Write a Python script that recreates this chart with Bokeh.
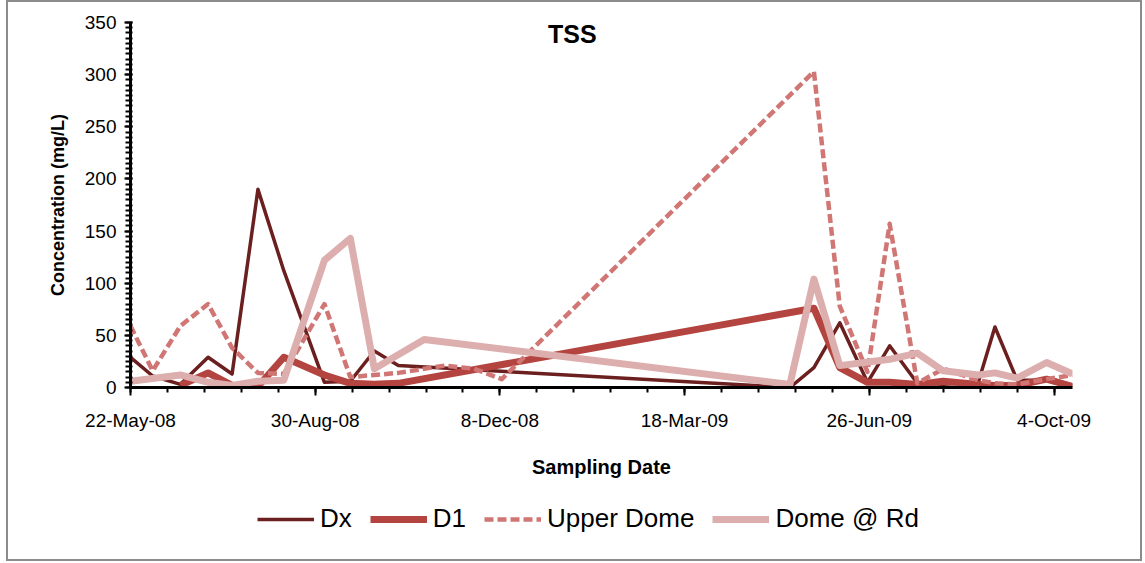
import pandas as pd
from bokeh.plotting import figure
from bokeh.layouts import column
from bokeh.models import (Range1d, FixedTicker, SingleIntervalTicker, Legend,
                          LegendItem, Label, ColumnDataSource)
from bokeh.embed import file_html
from bokeh.resources import INLINE

# ---------------- data ----------------
dx_dates = ["22-May-08", "3-Jun-08", "18-Jun-08", "3-Jul-08", "16-Jul-08", "30-Jul-08",
            "13-Aug-08", "4-Sep-08", "18-Sep-08", "1-Oct-08", "14-Oct-08", "14-May-09",
            "27-May-09", "10-Jun-09", "25-Jun-09", "7-Jul-09", "22-Jul-09", "5-Aug-09",
            "24-Aug-09", "2-Sep-09", "14-Sep-09", "30-Sep-09", "14-Oct-09"]
dx_values = [29, 11, 3, 29, 13, 190, 112, 5, 6, 35, 21, 0,
             19, 62, 5, 40, 4, 3, 5, 58, 7, 7, 2]

d1_dates = ["18-Jun-08", "3-Jul-08", "16-Jul-08", "30-Jul-08", "13-Aug-08", "4-Sep-08",
            "18-Sep-08", "1-Oct-08", "14-Oct-08", "27-May-09", "10-Jun-09", "25-Jun-09",
            "7-Jul-09", "22-Jul-09", "5-Aug-09", "24-Aug-09", "2-Sep-09", "14-Sep-09",
            "30-Sep-09", "14-Oct-09"]
d1_values = [2, 14, 2, 1, 29, 12, 4, 3, 4, 76, 19, 5, 5, 3, 6, 3, 2, 2, 8, 1]

upper_dates = ["22-May-08", "3-Jun-08", "18-Jun-08", "3-Jul-08", "16-Jul-08", "30-Jul-08",
               "13-Aug-08", "4-Sep-08", "18-Sep-08", "1-Oct-08", "14-Oct-08", "8-Nov-08",
               "24-Nov-08", "9-Dec-08", "27-May-09", "10-Jun-09", "25-Jun-09", "7-Jul-09",
               "22-Jul-09", "5-Aug-09", "24-Aug-09", "2-Sep-09", "14-Sep-09", "30-Sep-09",
               "14-Oct-09"]
upper_values = [59, 16, 59, 80, 38, 14, 13, 80, 10, 12, 14, 21, 18, 8, 303, 78, 15, 157,
                4, 18, 7, 4, 3, 8, 12]

rd_dates = ["22-May-08", "18-Jun-08", "3-Jul-08", "16-Jul-08", "30-Jul-08", "13-Aug-08",
            "4-Sep-08", "18-Sep-08", "1-Oct-08", "28-Oct-08", "14-May-09", "27-May-09",
            "10-Jun-09", "7-Jul-09", "22-Jul-09", "5-Aug-09", "24-Aug-09", "2-Sep-09",
            "14-Sep-09", "30-Sep-09", "14-Oct-09"]
rd_values = [6, 12, 5, 2, 6, 7, 122, 143, 18, 46, 3, 104, 21, 27, 33, 16, 12, 14, 9, 24, 13]

series_names = ["Dx", "D1", "Upper Dome", "Dome @ Rd"]
tick_labels = ["22-May-08", "30-Aug-08", "8-Dec-08", "18-Mar-09", "26-Jun-09", "4-Oct-09"]
y_max = 350


def to_dt(lst):
    return pd.to_datetime(lst, format="%d-%b-%y")


all_dates = to_dt(dx_dates + d1_dates + upper_dates + rd_dates)
x_start, x_end = all_dates.min(), all_dates.max()

p = figure(width=1132, height=485, x_axis_type="datetime",
           output_backend="svg", toolbar_location=None,
           x_range=Range1d(x_start, x_end), y_range=Range1d(0, y_max),
           min_border_left=122, min_border_right=68, min_border_top=20,
           min_border_bottom=100, background_fill_color="white",
           border_fill_color="white", outline_line_color=None)
p.grid.visible = False

styles = [
    dict(color="#6b1f1f", width=3.5, dash="solid"),
    dict(color="#b4443f", width=7, dash="solid"),
    dict(color="#d07674", width=4.5, dash="9 4"),
    dict(color="#dcafae", width=7, dash="solid"),
]
data = [(dx_dates, dx_values), (d1_dates, d1_values),
        (upper_dates, upper_values), (rd_dates, rd_values)]
sources = [ColumnDataSource(dict(x=to_dt(d), y=v)) for d, v in data]

for src, st in zip(sources, styles):
    p.line("x", "y", source=src, line_color=st["color"], line_width=st["width"],
           line_dash=st["dash"], line_join="round")

# ---------------- axes ----------------
major = [int(d.value // 10**6) for d in to_dt(tick_labels)]
minor = [int(d.value // 10**6) for d in pd.date_range(x_start, x_end, freq="20D")]
p.xaxis.ticker = FixedTicker(ticks=major, minor_ticks=minor)
p.xaxis.major_label_overrides = {m: lab for m, lab in zip(major, tick_labels)}

font = "Liberation Sans"
for ax in (p.xaxis[0], p.yaxis[0]):
    ax.axis_line_width = 3
    ax.axis_line_color = "black"
    ax.major_tick_line_width = 2
    ax.minor_tick_line_width = 2
    ax.major_tick_line_color = "black"
    ax.minor_tick_line_color = "black"
    ax.major_label_text_font = font
    ax.major_label_text_font_size = "19px"
    ax.major_label_text_color = "black"
    ax.axis_label_text_font = font
    ax.axis_label_text_font_style = "bold"
    ax.axis_label_text_color = "black"

p.xaxis.major_tick_in = 0
p.xaxis.major_tick_out = 8
p.xaxis.minor_tick_in = 0
p.xaxis.minor_tick_out = 5
p.xaxis.major_label_standoff = 14
p.xaxis.axis_label = "Sampling Date"
p.xaxis.axis_label_text_font_size = "20px"
p.xaxis.axis_label_standoff = 22

p.yaxis.ticker = SingleIntervalTicker(interval=50, num_minor_ticks=10)
p.yaxis.major_tick_in = 2
p.yaxis.major_tick_out = 6
p.yaxis.minor_tick_in = 2
p.yaxis.minor_tick_out = 5
p.yaxis.major_label_standoff = 8
p.yaxis.axis_label = "Concentration (mg/L)"
p.yaxis.axis_label_text_font_size = "18px"
p.yaxis.axis_label_standoff = 14

# ---------------- title ----------------
title_x = x_start + (x_end - x_start) * 0.469
p.add_layout(Label(x=title_x, y=y_max * 0.968, text="TSS", text_font=font,
                   text_font_size="25px", text_font_style="bold",
                   text_align="center", text_baseline="middle", text_color="black"))

# ---------------- legend strip (same series, drawn outside its view) ----------------
lf = figure(width=1132, height=72, output_backend="svg", toolbar_location=None,
            x_axis_location=None, y_axis_location=None, x_axis_type="datetime",
            x_range=Range1d(x_start, x_end), y_range=Range1d(-2 * y_max, -y_max),
            min_border=0, outline_line_color=None, background_fill_color="white",
            border_fill_color="white")
lf.grid.visible = False
legend_renderers = [lf.line("x", "y", source=src, line_color=st["color"],
                            line_width=st["width"], line_dash=st["dash"])
                    for src, st in zip(sources, styles)]
legend = Legend(items=[LegendItem(label=n, renderers=[r])
                       for n, r in zip(series_names, legend_renderers)],
                orientation="horizontal", location=(123, 21),
                glyph_width=57, glyph_height=20, label_standoff=6, spacing=18,
                label_text_font=font, label_text_font_size="26px", label_text_color="black",
                border_line_alpha=0, background_fill_alpha=0, margin=0, padding=4)
lf.add_layout(legend, "center")

layout = column(p, lf, spacing=0,
                styles={"margin-left": "6px", "border": "2px solid #8c8c8c",
                        "background-color": "white"})

open("out.html", "w").write(file_html(layout, INLINE))
